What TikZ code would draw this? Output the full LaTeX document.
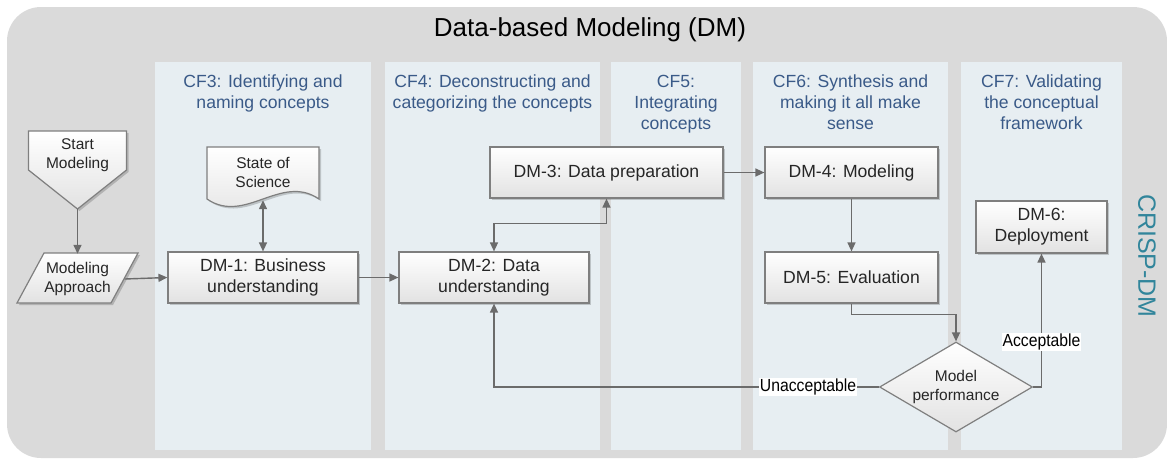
\documentclass[tikz,border=0pt]{standalone}
\usepackage{fontspec}
\setmainfont{Liberation Sans}
\newfontfamily\narrowsans[FakeStretch=0.9]{Liberation Sans}
\usetikzlibrary{shapes.geometric,arrows.meta,shadows}

\definecolor{panelgray}{HTML}{DADADA}
\definecolor{lanefill}{HTML}{E7EEF2}
\definecolor{lanehead}{HTML}{3A5A88}
\definecolor{crispteal}{HTML}{31859B}
\definecolor{boxline}{HTML}{7F7F7F}
\definecolor{boxbot}{HTML}{E2E2E2}
\definecolor{boxtext}{HTML}{262626}
\definecolor{arrowgray}{HTML}{6B6B6B}

\tikzset{
  boxshadow/.style={drop shadow={shadow xshift=2pt, shadow yshift=-2pt, opacity=0.18, fill=black}},
  stepbox/.style={draw=boxline, line width=1.2pt, top color=white, bottom color=boxbot,
    align=center, text=boxtext, font=\fontsize{17.6}{21}\selectfont, inner sep=0pt, boxshadow},
  shapeline/.style={draw=boxline, line width=1.2pt, top color=white, bottom color=boxbot, boxshadow},
  smalltext/.style={align=center, text=boxtext, font=\fontsize{15.5}{19}\selectfont, inner sep=0pt},
  lane/.style={fill=lanefill, draw=none},
  lanetitle/.style={align=center, text=lanehead, font=\fontsize{17.6}{21}\selectfont, inner sep=0pt, anchor=north},
  arr/.style={draw=arrowgray, line width=1.4pt, -{Triangle[length=9pt,width=8pt]}},
  darr/.style={draw=arrowgray, line width=1.4pt, {Triangle[length=9pt,width=8pt]}-{Triangle[length=9pt,width=8pt]}},
  edgelabel/.style={fill=white, text=black, inner sep=1pt, font=\narrowsans\fontsize{17.5}{20}\selectfont},
  decision/.style={diamond, aspect=1.7, draw=boxline, line width=1.2pt, top color=white, bottom color=boxbot,
    minimum width=153pt, minimum height=90pt, inner sep=0pt, align=center, text=boxtext,
    font=\fontsize{15.5}{19}\selectfont},
}

\begin{document}
\begin{tikzpicture}[x=1pt,y=-1pt]
\useasboundingbox (0,0) rectangle (1167,459);

% outer panel
\fill[panelgray, rounded corners=34pt] (7,7) rectangle (1167,458);
\node[font=\fontsize{26}{30}\selectfont, text=black] (title) at (590,30) {Data-based Modeling (DM)};

% lanes
\fill[lane] (155,62) rectangle (371,450);
\fill[lane] (385,62) rectangle (600,450);
\fill[lane] (611,62) rectangle (741,450);
\fill[lane] (753,62) rectangle (948,450);
\fill[lane] (961,62) rectangle (1122,450);

\node[lanetitle] (cf3) at (263,75) {CF3: Identifying and\\naming concepts};
\node[lanetitle] (cf4) at (492.5,75) {CF4: Deconstructing and\\categorizing the concepts};
\node[lanetitle] (cf5) at (676,75) {CF5:\\Integrating\\concepts};
\node[lanetitle] (cf6) at (850.5,75) {CF6: Synthesis and\\making it all make\\sense};
\node[lanetitle] (cf7) at (1041.5,75) {CF7: Validating\\the conceptual\\framework};

\node[rotate=-90, text=crispteal, font=\fontsize{25}{28}\selectfont] (crisp) at (1147,256) {CRISP-DM};

% start (off-page connector)
\path[shapeline] (28.5,131) -- (126.5,131) -- (126.5,170) -- (77.5,209) -- (28.5,170) -- cycle;
\node[smalltext] (start) at (77.5,155) {Start\\Modeling};
\coordinate (startTip) at (77.5,209);

% modeling approach (parallelogram)
\path[shapeline] (44,253) -- (138,253) -- (111,303) -- (17,303) -- cycle;
\node[smalltext, minimum width=94pt, minimum height=50pt] (appr) at (77.5,279) {Modeling\\Approach};

% state of science (document)
\path[shapeline] (207,147) -- (319,147) -- (319,199)
  .. controls (281,173) and (245,225) .. (207,199) -- cycle;
\node[smalltext, minimum width=112pt, minimum height=53pt] (sos) at (263,173.5) {};
\node[smalltext] (sostext) at (263,172.5) {State of\\Science};

% process steps
\node[stepbox, minimum width=190pt, minimum height=51pt] (dm1) at (263,277.5) {DM-1: Business\\understanding};
\node[stepbox, minimum width=190pt, minimum height=51pt] (dm2) at (494,277.5) {DM-2: Data\\understanding};
\node[stepbox, minimum width=233pt, minimum height=51pt] (dm3) at (606.5,172.5) {DM-3: Data preparation};
\node[stepbox, minimum width=173pt, minimum height=51pt] (dm4) at (851.5,172.5) {DM-4: Modeling};
\node[stepbox, minimum width=173pt, minimum height=51pt] (dm5) at (851.5,277.5) {DM-5: Evaluation};
\node[stepbox, minimum width=131pt, minimum height=52pt] (dm6) at (1041.5,227) {DM-6:\\Deployment};

% decision
\node[decision] (perf) at (956,387) {Model\\performance};

% connectors
\draw[arr] (startTip) -- (appr.north);
\draw[arr] (appr.east) -- (dm1.west);
\draw[darr] (sos.south) -- (dm1.north);
\draw[arr] (dm1.east) -- (dm2.west);
\draw[darr] (dm2.north) -- ++(0,-28) -| (dm3.south);
\draw[arr] (dm3.east) -- (dm4.west);
\draw[arr] (dm4.south) -- (dm5.north);
\draw[arr] (dm5.south) -- ++(0,11) -| (perf.north);
\draw[arr] (perf.west) -| node[edgelabel, pos=0.092] (unacc) {Unacceptable} (dm2.south);
\draw[arr] (perf.east) -| node[edgelabel, pos=0.668] (acc) {Acceptable} (dm6.south);

\end{tikzpicture}
\end{document}
